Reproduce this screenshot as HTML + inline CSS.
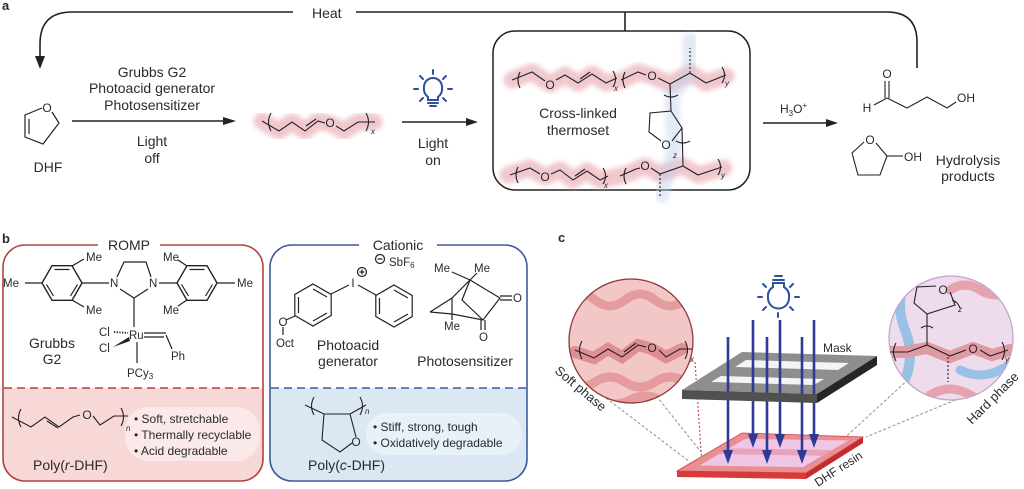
<!DOCTYPE html>
<html><head><meta charset="utf-8">
<style>
html,body{margin:0;padding:0;background:#fff;}
svg{display:block;}
text{font-family:"Liberation Sans",Arial,sans-serif;fill:#2a2a2a;}
</style></head><body>
<svg width="1024" height="489" viewBox="0 0 1024 489" xmlns="http://www.w3.org/2000/svg">
<defs>
<linearGradient id="rg" x1="0" y1="0" x2="0" y2="1">
<stop offset="0.606" stop-color="#ffffff"/><stop offset="0.606" stop-color="#f8d8d7"/>
</linearGradient>
<linearGradient id="bg" x1="0" y1="0" x2="0" y2="1">
<stop offset="0.606" stop-color="#ffffff"/><stop offset="0.606" stop-color="#dbe7f3"/>
</linearGradient>
<filter id="bl" x="-20%" y="-80%" width="140%" height="260%"><feGaussianBlur stdDeviation="2.4"/></filter>
<clipPath id="cl"><circle cx="631" cy="341" r="62"/></clipPath>
<clipPath id="cr"><circle cx="951" cy="338" r="62"/></clipPath>
</defs>

<!-- ============ PANEL A ============ -->
<text x="2" y="10" font-weight="bold" font-size="13">a</text>
<g fill="none" stroke="#222" stroke-width="1.6">
<path d="M293 12 H72 Q40 12 40 44 V58"/>
<path d="M356 12 H887 Q917 12 917 42 V68"/>
<path d="M625 12 V31"/>
</g>
<polygon points="35,56 45,56 40,69" fill="#222"/>
<text x="312" y="18" font-size="14">Heat</text>

<!-- DHF -->
<g fill="none" stroke="#222" stroke-width="1.2">
<path d="M42 108 L25 115 L25 137 L43 144 L59 123 L52 112"/>
<path d="M29 119 L29 134"/>
</g>
<text x="47" y="112" font-size="12" text-anchor="middle">O</text>
<text x="48" y="172" font-size="14" text-anchor="middle">DHF</text>

<!-- arrow 1 -->
<line x1="72" y1="121" x2="228" y2="121" stroke="#222" stroke-width="1.5"/>
<polygon points="223,117 236,121 223,125" fill="#222"/>
<g font-size="14" text-anchor="middle">
<text x="152" y="77">Grubbs G2</text>
<text x="152" y="93">Photoacid generator</text>
<text x="152" y="110">Photosensitizer</text>
<text x="152" y="146">Light</text>
<text x="152" y="163">off</text>
</g>

<!-- poly(r-DHF) in a -->
<path d="M262 121 L279 131 L292 122 L305 131 L318 121 L331 124 L344 131 L358 122 L374 122" stroke="#e6a3ac" stroke-width="17" fill="none" stroke-linecap="round" stroke-linejoin="round" opacity="0.6" filter="url(#bl)"/>
<g fill="none" stroke="#222" stroke-width="1.1">
<path d="M262 121 L279 131 L292 122 L305 131 L318 121 L325 123"/>
<path d="M306 126 L316 119"/>
<path d="M336 126 L344 131 L358 122 L375 122"/>
<path d="M271 113 Q266 122 271 131"/>
<path d="M366 113 Q371 122 366 131"/>
</g>
<text x="330" y="127" font-size="12" text-anchor="middle">O</text>
<text x="371" y="134" font-size="8" font-style="italic">x</text>

<!-- bulb a -->
<g stroke="#2f4f9f" stroke-width="2" fill="none" stroke-linecap="round">
<path d="M428 100 L428 97 Q423 93 424 87 A9 9 0 1 1 442 87 Q443 93 438 97 L438 100 Z"/>
<line x1="428" y1="103" x2="438" y2="103"/>
<line x1="430" y1="106" x2="436" y2="106"/>
<line x1="433" y1="70" x2="433" y2="74"/>
<line x1="420" y1="76" x2="423" y2="79"/>
<line x1="446" y1="76" x2="443" y2="79"/>
<line x1="414" y1="89" x2="418" y2="89"/>
<line x1="448" y1="89" x2="452" y2="89"/>
<line x1="420" y1="101" x2="423" y2="98"/>
<line x1="446" y1="101" x2="443" y2="98"/>
</g>
<line x1="402" y1="122" x2="470" y2="122" stroke="#222" stroke-width="1.5"/>
<polygon points="466,118 478,122 466,126" fill="#222"/>
<text x="433" y="148" font-size="14" text-anchor="middle">Light</text>
<text x="433" y="165" font-size="14" text-anchor="middle">on</text>

<!-- thermoset box -->
<rect x="493" y="31" width="257" height="159" rx="22" fill="#fff" stroke="#222" stroke-width="1.5"/>
<!-- highlights -->
<path d="M512 80 L532 72 L550 84 L565 75 L578 83 L592 74 L606 83 L623 80 L638 72 L652 76 L670 84 L690 73 L706 83 L726 76" stroke="#e6a3ac" stroke-width="17" fill="none" stroke-linecap="round" stroke-linejoin="round" opacity="0.6" filter="url(#bl)"/>
<path d="M508 175 L530 168 L545 177 L560 170 L573 180 L587 171 L600 180 L625 175 L645 166 L660 174 L683 166 L698 175 L724 168" stroke="#e6a3ac" stroke-width="17" fill="none" stroke-linecap="round" stroke-linejoin="round" opacity="0.6" filter="url(#bl)"/>
<path d="M690 40 L690 73 L672 95 L674 150 L668 170 L662 195" stroke="#c3d0ec" stroke-width="15" fill="none" stroke-linecap="round" stroke-linejoin="round" opacity="0.45" filter="url(#bl)"/>
<g fill="none" stroke="#222" stroke-width="1.1">
<!-- top chain -->
<path d="M512 80 L532 72 L545 81"/>
<path d="M556 80 L565 75 L578 83 L592 74 L606 83 L617 78"/>
<path d="M580 79 L590 72"/>
<path d="M520 72 Q516 80 520 88"/>
<path d="M613 71 Q618 79 613 87"/>
<path d="M625 72 Q621 80 625 88"/>
<path d="M621 80 L638 72 L646 75"/>
<path d="M658 78 L670 84 L690 73 L706 83 L726 75"/>
<path d="M722 67 Q727 75 722 83"/>
<path d="M690 73 L690 48" stroke-dasharray="2,2"/>
<!-- crosslink -->
<path d="M670 84 L671 111 L650 113 L649 132 L661 141"/>
<path d="M671 111 L682 128 L672 141"/>
<path d="M682 128 L683 166"/>
<path d="M664 95 Q671 99 678 95"/>
<path d="M676 141 Q683 145 690 141"/>
<!-- bottom chain -->
<path d="M510 175 L530 168 L540 174"/>
<path d="M551 174 L560 170 L573 180 L587 171 L600 180 L608 176"/>
<path d="M575 176 L585 169"/>
<path d="M518 167 Q514 175 518 183"/>
<path d="M603 168 Q608 176 603 184"/>
<path d="M626 168 Q622 176 626 184"/>
<path d="M620 176 L636 169 L640 168"/>
<path d="M651 168 L660 174 L683 166 L698 175 L722 167"/>
<path d="M718 159 Q723 167 718 175"/>
<path d="M660 174 L660 196" stroke-dasharray="2,2"/>
</g>
<g font-size="12" text-anchor="middle">
<text x="550" y="89">O</text>
<text x="652" y="80">O</text>
<text x="666" y="149">O</text>
<text x="545" y="181">O</text>
<text x="645" y="170">O</text>
</g>
<g font-size="8" font-style="italic">
<text x="614" y="91">x</text>
<text x="725" y="86">y</text>
<text x="673" y="158">z</text>
<text x="604" y="188">x</text>
<text x="721" y="178">y</text>
</g>
<text x="578" y="118" font-size="14" text-anchor="middle">Cross-linked</text>
<text x="578" y="135" font-size="14" text-anchor="middle">thermoset</text>

<!-- H3O+ arrow -->
<line x1="763" y1="123" x2="830" y2="123" stroke="#222" stroke-width="1.5"/>
<polygon points="826,119 838,123 826,127" fill="#222"/>
<text x="780" y="113" font-size="12">H<tspan font-size="8" dy="3">3</tspan><tspan dy="-3">O</tspan><tspan font-size="8" dy="-5">+</tspan></text>

<!-- products -->
<g fill="none" stroke="#222" stroke-width="1.1">
<path d="M885 81 V98 M889 81 V98"/>
<path d="M887 98 L874 105"/>
<path d="M887 98 L907 108 L927 97 L947 108 L956 102"/>
<path d="M864 142 L852 153 L858 175 L880 175 L887 156 L876 143"/>
<path d="M887 156 L903 156"/>
</g>
<text x="887" y="78" font-size="12" text-anchor="middle">O</text>
<text x="867" y="112" font-size="12" text-anchor="middle">H</text>
<text x="957" y="102" font-size="12">OH</text>
<text x="870" y="144" font-size="12" text-anchor="middle">O</text>
<text x="904" y="161" font-size="12">OH</text>
<text x="968" y="165" font-size="14" text-anchor="middle">Hydrolysis</text>
<text x="968" y="181" font-size="14" text-anchor="middle">products</text>

<!-- ============ PANEL B ============ -->
<text x="2" y="243" font-weight="bold" font-size="13">b</text>
<rect x="3" y="245" width="260" height="236" rx="22" fill="url(#rg)" stroke="#b4433f" stroke-width="1.6"/>
<rect x="98" y="240" width="62" height="10" fill="#fff"/>
<text x="129" y="250" font-size="14" text-anchor="middle">ROMP</text>
<line x1="4" y1="388" x2="262" y2="388" stroke="#b4433f" stroke-width="1.6" stroke-dasharray="8,5"/>
<rect x="125" y="407" width="135" height="54" rx="24" fill="#fbe9e9"/>

<rect x="270" y="245" width="257" height="236" rx="22" fill="url(#bg)" stroke="#3d5b9b" stroke-width="1.6"/>
<rect x="359" y="240" width="78" height="10" fill="#fff"/>
<text x="398" y="250" font-size="14" text-anchor="middle">Cationic</text>
<line x1="271" y1="388" x2="526" y2="388" stroke="#3d5b9b" stroke-width="1.6" stroke-dasharray="8,5"/>
<rect x="366" y="413" width="156" height="42" rx="20" fill="#e8f0f8"/>

<!-- Grubbs G2 -->
<g fill="none" stroke="#222" stroke-width="1.2">
<polygon points="82,283 72,265.7 52,265.7 42,283 52,300.3 72,300.3" stroke-width="1.4"/>
<path d="M54.5 269.5 L69.5 269.5 M46.5 284.5 L53.5 296 M70.5 296 L77.5 284.5"/>
<path d="M82 283 L109 283 M72 266 L84 259 M72 300 L84 307 M42 283 L25 283"/>
<polygon points="217,283 207,265.7 187,265.7 177,283 187,300.3 207,300.3" stroke-width="1.4"/>
<path d="M189.5 269.5 L204.5 269.5 M181.5 284.5 L188.5 296 M205.5 296 L212.5 284.5"/>
<path d="M159 283 L177 283 M187 266 L178 260 M187 300 L178 306 M217 283 L235 283"/>
<path d="M117 277 L124 262 L146 262 L151 277"/>
<path d="M120 289 L134 298 L148 289"/>
<path d="M134 298 L134 327"/>
<path d="M144 333 L166 333 M144 337 L164 337"/>
<path d="M166 335 L172 349"/>
<path d="M137 342 L137 363"/>
<path d="M114 332 L128 333" stroke-dasharray="1.2,1.5" stroke-width="2"/>
</g>
<polygon points="113,347 129,337 130,341" fill="#222"/>
<g font-size="11.5">
<text x="3" y="287">Me</text>
<text x="86" y="261">Me</text>
<text x="86" y="314">Me</text>
<text x="110" y="287">N</text>
<text x="149" y="287">N</text>
<text x="163" y="261">Me</text>
<text x="163" y="314">Me</text>
<text x="237" y="287">Me</text>
<text x="129" y="339">Ru</text>
<text x="99" y="336">Cl</text>
<text x="99" y="352">Cl</text>
<text x="171" y="360">Ph</text>
<text x="127" y="377">PCy<tspan font-size="8" dy="2">3</tspan></text>
</g>
<text x="52" y="348" font-size="14" text-anchor="middle">Grubbs</text>
<text x="52" y="364" font-size="14" text-anchor="middle">G2</text>

<!-- poly(r-DHF) b -->
<g fill="none" stroke="#222" stroke-width="1.1">
<path d="M12 417 L31 427 L45 417 L59 427 L73 417 L80 415"/>
<path d="M47 421 L58 428" />
<path d="M93 416 L100 425 L114 416 L128 416"/>
<path d="M21 409 Q16 418 21 427"/>
<path d="M121 408 Q126 417 121 426"/>
</g>
<text x="87" y="419" font-size="12" text-anchor="middle">O</text>
<text x="126" y="431" font-size="8" font-style="italic">n</text>
<g font-size="12">
<text x="134" y="423">• Soft, stretchable</text>
<text x="134" y="439">• Thermally recyclable</text>
<text x="134" y="455">• Acid degradable</text>
</g>
<text x="33" y="470" font-size="14">Poly(<tspan font-style="italic">r</tspan>-DHF)</text>

<!-- Photoacid generator -->
<g fill="none" stroke="#222" stroke-width="1.2">
<polygon points="313,284 331.2,294.5 331.2,315.5 313,326 294.8,315.5 294.8,294.5"/>
<path d="M313 289 L327 297 M327 313 L313 321 M298.5 313 L298.5 297"/>
<polygon points="394,285 412.2,295.5 412.2,316.5 394,327 375.8,316.5 375.8,295.5"/>
<path d="M394 290 L408 298 M408 314 L394 322 M379.5 314 L379.5 298"/>
<path d="M331 294 L349 285 M358 285 L376 295"/>
<path d="M295 316 L286 320"/>
<path d="M283 327 L283 335"/>
<circle cx="362" cy="272" r="4.5"/><path d="M359.5 272 H364.5 M362 269.5 V274.5"/>
<circle cx="380" cy="259" r="4.5"/><path d="M377.5 259 H382.5"/>
</g>
<g font-size="11.5">
<text x="353" y="287" text-anchor="middle">I</text>
<text x="389" y="266">SbF<tspan font-size="8" dy="2">6</tspan></text>
<text x="283" y="326" text-anchor="middle">O</text>
<text x="276" y="347">Oct</text>
</g>
<text x="348" y="350" font-size="14" text-anchor="middle">Photoacid</text>
<text x="348" y="366" font-size="14" text-anchor="middle">generator</text>

<!-- camphorquinone -->
<g fill="none" stroke="#222" stroke-width="1.2">
<path d="M430 312 L452 298 L470 280 L500 298 L483 320 L452 314 L430 312"/>
<path d="M452 298 L452 314"/>
<path d="M470 280 L462 300 L483 320"/>
<path d="M500 296 L512 296 M500 300 L512 300"/>
<path d="M481 320 L481 330 M485 320 L485 330"/>
<path d="M470 280 L452 272 M470 280 L477 273"/>
<path d="M452 314 L452 320"/>
</g>
<g font-size="11.5">
<text x="434" y="272">Me</text>
<text x="474" y="272">Me</text>
<text x="513" y="302">O</text>
<text x="479" y="341">O</text>
<text x="444" y="330">Me</text>
</g>
<text x="465" y="366" font-size="14" text-anchor="middle">Photosensitizer</text>

<!-- poly(c-DHF) -->
<g fill="none" stroke="#222" stroke-width="1.1">
<path d="M305 405 L324 414 L350 414 L356 437"/>
<path d="M352 443 L340 452 L322 440 L324 414"/>
<path d="M350 414 L366 405"/>
<path d="M314 397 Q309 406 314 415"/>
<path d="M360 397 Q365 406 360 415"/>
</g>
<text x="356" y="446" font-size="12" text-anchor="middle">O</text>
<text x="365" y="414" font-size="8" font-style="italic">n</text>
<g font-size="12">
<text x="373" y="431">• Stiff, strong, tough</text>
<text x="373" y="447">• Oxidatively degradable</text>
</g>
<text x="308" y="470" font-size="14">Poly(<tspan font-style="italic">c</tspan>-DHF)</text>

<!-- ============ PANEL C ============ -->
<text x="558" y="242" font-weight="bold" font-size="13">c</text>

<!-- dashed connectors -->
<g fill="none" stroke="#9a9a9a" stroke-width="1.1" stroke-dasharray="3,2">
<path d="M650 388 L701 452"/>
<path d="M606 398 L690 462"/>
<path d="M912 376 L838 444"/>
<path d="M960 398 L866 437"/>
</g>
<path d="M695 362 L702 465" stroke="#c05050" stroke-width="1.2" stroke-dasharray="2,2" fill="none"/>

<!-- left circle -->
<circle cx="631" cy="341" r="62" fill="#f4c7c7"/>
<g clip-path="url(#cl)" fill="none" stroke="#e59c9e" stroke-width="9" stroke-linecap="round">
<path d="M565 300 q 15 -12 30 0 t 30 0 t 30 0 t 30 0 t 30 0"/>
<path d="M565 382 q 15 10 30 0 t 30 0 t 30 0 t 30 0 t 30 0"/>
<path d="M570 400 q 15 -8 30 0 t 30 0 t 30 0"/>
<path d="M575 352 L594 358 L608 349 L622 357 L638 345 L652 349 L666 357 L682 349" stroke="#df8f93" stroke-width="12"/>
</g>
<circle cx="631" cy="341" r="62" fill="none" stroke="#8c3838" stroke-width="1.3"/>
<g fill="none" stroke="#222" stroke-width="1.1">
<path d="M575 350 L594 358 L608 349 L622 357 L638 345 L646 347"/>
<path d="M624 352 L636 343"/>
<path d="M659 350 L666 357 L680 349 L692 349"/>
<path d="M582 341 Q577 350 582 359"/>
<path d="M685 341 Q690 350 685 359"/>
</g>
<text x="652" y="352" font-size="12" text-anchor="middle">O</text>
<text x="690" y="362" font-size="8" font-style="italic">x</text>
<text transform="translate(554,372) rotate(40)" font-size="13">Soft phase</text>

<!-- right circle -->
<circle cx="951" cy="338" r="62" fill="#eedbeb"/>
<g clip-path="url(#cr)" fill="none" stroke-linecap="round">
<path d="M905 280 q -10 25 0 50 t 0 50 t 0 40" stroke="#98c1e6" stroke-width="10"/>
<path d="M985 285 q 15 15 30 5" stroke="#98c1e6" stroke-width="10"/>
<path d="M960 370 q 20 10 40 0 t 30 10" stroke="#98c1e6" stroke-width="9"/>
<path d="M950 290 q 15 -10 30 0 t 40 0" stroke="#e6a3ad" stroke-width="9"/>
<path d="M930 395 q 20 -12 40 0 t 40 0" stroke="#e6a3ad" stroke-width="9"/>
<path d="M885 352 L905 352 L927 348 L950 357 L973 348 L992 355 L1010 350" stroke="#e09aa4" stroke-width="12"/>
</g>
<circle cx="951" cy="338" r="62" fill="none" stroke="#c6a3cd" stroke-width="1.3"/>
<g fill="none" stroke="#222" stroke-width="1.1">
<path d="M890 352 L908 352 L927 345 L950 356 L966 350"/>
<path d="M980 350 L990 356 L1008 350"/>
<path d="M948 357 L948 382" stroke-dasharray="2,2"/>
<path d="M927 345 L927 314 L914 303 L917 287 L936 286"/>
<path d="M950 292 L955 305 L927 314"/>
<path d="M896 343 Q891 352 896 361"/>
<path d="M1002 342 Q1007 351 1002 360"/>
<path d="M921 328 Q927 324 933 328"/>
<path d="M952 300 Q958 302 960 308"/>
</g>
<text x="943" y="294" font-size="12" text-anchor="middle">O</text>
<text x="973" y="353" font-size="12" text-anchor="middle">O</text>
<text x="958" y="312" font-size="8" font-style="italic">z</text>
<text x="1005" y="362" font-size="8" font-style="italic">y</text>
<text transform="translate(972,425) rotate(-45)" font-size="13">Hard phase</text>

<!-- base resin -->
<polygon points="677,471 806,473 806,479 677,477" fill="#d83a3a"/>
<polygon points="806,473 863,437 863,443 806,479" fill="#c02e2e"/>
<polygon points="677,471 742,433 863,437 806,473" fill="#e98f93" stroke="#d04040" stroke-width="0.8"/>
<polygon points="699.6,465.5 802.9,467.1 848.4,440.5 745.2,438.9" fill="#f0c6e6"/>
<polygon points="719.2,454.1 822.4,455.7 832.1,450 728.9,448.4" fill="#e8a3b8"/>
<text transform="translate(818,487) rotate(-33)" font-size="12">DHF resin</text>

<!-- mask top face -->
<polygon points="682,390 817,394 877,356 742,352" fill="#8e8e8e"/>
<polygon points="711,382 814,385 824,379 721,376" fill="#f4f4f4"/>
<polygon points="735,367 838,370 849,363 746,360" fill="#f4f4f4"/>

<!-- blue arrows -->
<g stroke="#2e3a96" stroke-width="2.6" fill="none">
<line x1="728" y1="337" x2="728" y2="453"/>
<line x1="753" y1="320" x2="753" y2="437"/>
<line x1="767" y1="337" x2="767" y2="453"/>
<line x1="780" y1="320" x2="780" y2="437"/>
<line x1="802" y1="337" x2="802" y2="453"/>
<line x1="814" y1="320" x2="814" y2="437"/>
</g>
<g fill="#2e3a96">
<polygon points="723,450 733,450 728,464"/>
<polygon points="748,434 758,434 753,448"/>
<polygon points="762,450 772,450 767,464"/>
<polygon points="775,434 785,434 780,448"/>
<polygon points="797,450 807,450 802,464"/>
<polygon points="809,434 819,434 814,448"/>
</g>
<!-- mask front/side faces -->
<polygon points="682,390 817,394 817,403 682,399" fill="#505050"/>
<polygon points="817,394 877,356 877,365 817,403" fill="#262626"/>
<text x="823" y="352" font-size="12">Mask</text>

<!-- bulb c (inverted) -->
<g stroke="#2f4f9f" stroke-width="2" fill="none" stroke-linecap="round">
<path d="M773 283 L773 287 Q767 291 768 298 A10 10 0 1 0 789 298 Q790 291 784 287 L784 283 Z"/>
<line x1="773" y1="280" x2="784" y2="280"/>
<line x1="775" y1="276" x2="782" y2="276"/>
<line x1="778" y1="313" x2="778" y2="317"/>
<line x1="763" y1="310" x2="766" y2="307"/>
<line x1="793" y1="310" x2="790" y2="307"/>
<line x1="758" y1="297" x2="762" y2="297"/>
<line x1="795" y1="297" x2="799" y2="297"/>
<line x1="763" y1="284" x2="766" y2="287"/>
<line x1="793" y1="284" x2="790" y2="287"/>
</g>
</svg>
</body></html>
